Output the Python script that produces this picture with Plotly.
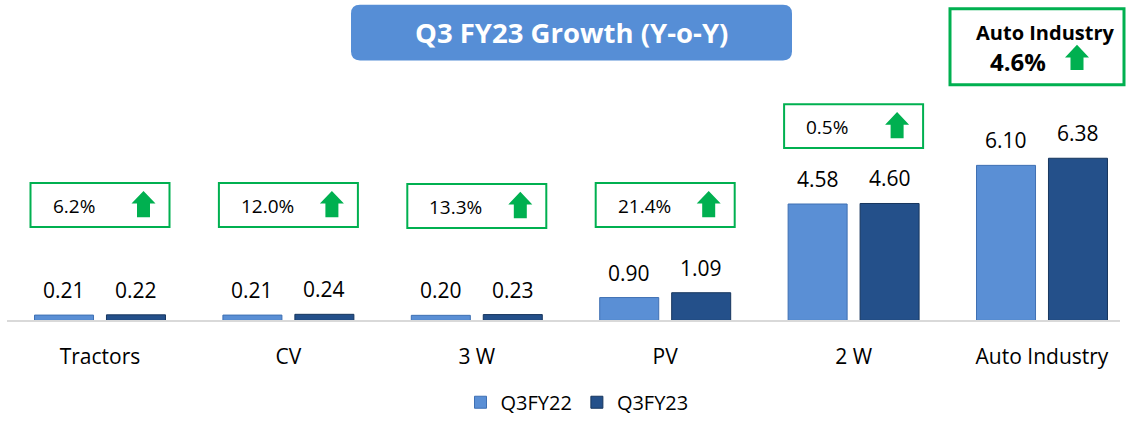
import plotly.graph_objects as go

# ---------------- data ----------------
categories = ["Tractors", "CV", "3 W", "PV", "2 W", "Auto Industry"]
q3fy22 = [0.21, 0.21, 0.20, 0.90, 4.58, 6.10]
q3fy23 = [0.22, 0.24, 0.23, 1.09, 4.60, 6.38]
growth = ["6.2%", "12.0%", "13.3%", "21.4%", "0.5%"]
total_growth = "4.6%"
series_names = ["Q3FY22", "Q3FY23"]
title_text = "Q3 FY23 Growth (Y-o-Y)"

# ---------------- layout constants ----------------
W, H = 1126, 422
FONT = "Open Sans"
GREEN = "#00B050"
C22 = "#5A8FD5"
C23 = "#24508A"

x_left_px, x_right_px = 7, 1120
base_px = 329            # baseline pixel row
unit_px = 26.1           # pixels per unit on y
grp_px = 188.4           # pixels between category centres
first_px = 100           # centre of first category
r0 = -(first_px - x_left_px) / grp_px
r1 = r0 + (x_right_px - x_left_px) / grp_px
y_top = base_px / unit_px

bargap = 0.236
bargroupgap = 0.18
slot = (1 - bargap) / 2
off = slot / 2


def px(x):
    return x / W


def py(y):
    return 1 - y / H


def cat_px(i):
    return x_left_px + (i - r0) * grp_px


fig = go.Figure()
for name, vals, col, edge in [(series_names[0], q3fy22, C22, "#3f70b3"),
                              (series_names[1], q3fy23, C23, "#17365e")]:
    fig.add_trace(go.Bar(
        x=categories, y=vals, name=name,
        marker=dict(color=col, line=dict(color=edge, width=1)),
        hoverinfo="x+y+name",
    ))

annotations = []
shapes = []

# value labels above bars
for k, vals in enumerate([q3fy22, q3fy23]):
    sgn = -1 if k == 0 else 1
    for i, v in enumerate(vals):
        annotations.append(dict(
            x=i + sgn * off, y=v, xref="x", yref="y", text=f"{v:.2f}",
            showarrow=False, yanchor="middle", yshift=25,
            font=dict(family=FONT, size=21, color="#000000")))


def arrow_path(cx, top, bottom, hw=12, sw=6.5, hh=13):
    pts = [(cx, top), (cx + hw, top + hh), (cx + sw, top + hh), (cx + sw, bottom),
           (cx - sw, bottom), (cx - sw, top + hh), (cx - hw, top + hh)]
    d = "M " + " L ".join(f"{px(a):.5f},{py(b):.5f}" for a, b in pts) + " Z"
    return d


# growth boxes
box_tops = [188, 188, 189, 188, 107]
box_w, box_h = 139, 45
for i, g in enumerate(growth):
    cx = cat_px(i)
    left = cx - box_w / 2
    top = box_tops[i]
    shapes.append(dict(type="rect", xref="paper", yref="paper",
                       x0=px(left), x1=px(left + box_w), y0=py(top + box_h), y1=py(top),
                       line=dict(color=GREEN, width=2), fillcolor="rgba(0,0,0,0)"))
    annotations.append(dict(x=px(left + 20), y=py(top + box_h / 2 + 1), xref="paper", yref="paper",
                            text=g, showarrow=False, xanchor="left", yanchor="middle",
                            font=dict(family=FONT, size=19, color="#000000")))
    shapes.append(dict(type="path", xref="paper", yref="paper",
                       path=arrow_path(left + 113, top + 8, top + 35),
                       fillcolor=GREEN, line=dict(width=0)))

# Auto industry box
shapes.append(dict(type="rect", xref="paper", yref="paper",
                   x0=px(950), x1=px(1124), y0=py(87), y1=py(9),
                   line=dict(color=GREEN, width=3), fillcolor="rgba(0,0,0,0)"))
annotations.append(dict(x=px(1045), y=py(33), xref="paper", yref="paper",
                        text="<b>Auto Industry</b>", showarrow=False, xanchor="center", yanchor="middle",
                        font=dict(family=FONT, size=20, color="#000000")))
annotations.append(dict(x=px(988), y=py(63), xref="paper", yref="paper",
                        text=f"<b>{total_growth}</b>", showarrow=False, xanchor="left", yanchor="middle",
                        font=dict(family=FONT, size=24, color="#000000")))
shapes.append(dict(type="path", xref="paper", yref="paper",
                   path=arrow_path(1077, 46, 72), fillcolor=GREEN, line=dict(width=0)))

# title box (rounded rectangle)
tx0, tx1, ty0, ty1, rr = 351, 792, 5, 62, 9
pts = (f"M {px(tx0+rr)},{py(ty0)} L {px(tx1-rr)},{py(ty0)} "
       f"Q {px(tx1)},{py(ty0)} {px(tx1)},{py(ty0+rr)} L {px(tx1)},{py(ty1-rr)} "
       f"Q {px(tx1)},{py(ty1)} {px(tx1-rr)},{py(ty1)} L {px(tx0+rr)},{py(ty1)} "
       f"Q {px(tx0)},{py(ty1)} {px(tx0)},{py(ty1-rr)} L {px(tx0)},{py(ty0+rr)} "
       f"Q {px(tx0)},{py(ty0)} {px(tx0+rr)},{py(ty0)} Z")
shapes.append(dict(type="path", xref="paper", yref="paper", path=pts,
                   fillcolor="#568ED6", line=dict(width=0), layer="below"))
annotations.append(dict(x=px((tx0 + tx1) / 2), y=py((ty0 + ty1) / 2), xref="paper", yref="paper",
                        text=f"<b>{title_text}</b>", showarrow=False, xanchor="center", yanchor="middle",
                        font=dict(family=FONT, size=27.5, color="#FFFFFF")))

fig.update_layout(
    width=W, height=H, autosize=False,
    margin=dict(l=0, r=0, t=0, b=0, pad=0),
    paper_bgcolor="white", plot_bgcolor="white",
    barmode="group", bargap=bargap, bargroupgap=bargroupgap,
    font=dict(family=FONT, color="#000000"),
    xaxis=dict(domain=[px(x_left_px), px(x_right_px)], range=[r0, r1],
               showline=True, linecolor="#D9D9D9", linewidth=2,
               showgrid=False, zeroline=False, ticks="", automargin=False,
               ticklabelstandoff=16,
               tickfont=dict(family=FONT, size=21, color="#000000")),
    yaxis=dict(domain=[1 - base_px / H, 1], range=[0, y_top], visible=False,
               showgrid=False, zeroline=False, automargin=False),
    legend=dict(orientation="h", x=px(577), xanchor="center", y=py(413), yanchor="middle",
                font=dict(family=FONT, size=20, color="#000000"), bgcolor="rgba(0,0,0,0)"),
    shapes=shapes, annotations=annotations,
)

fig.write_html("out.html", config={"responsive": False, "displayModeBar": False},
               post_script="document.body.style.margin='0px';document.body.style.overflow='hidden';")
